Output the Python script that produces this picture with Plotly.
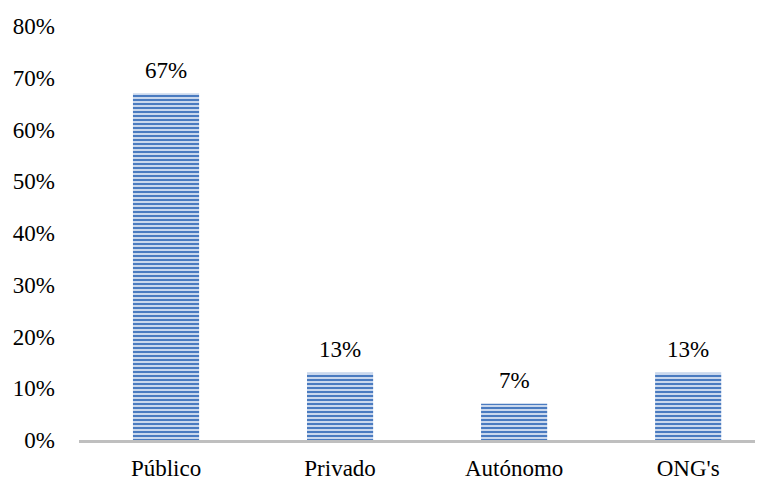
import plotly.graph_objects as go

categories = ["Público", "Privado", "Autónomo", "ONG's"]
values = [0.67, 0.13, 0.07, 0.13]
labels = ["67%", "13%", "7%", "13%"]
ytick_vals = [0, 0.1, 0.2, 0.3, 0.4, 0.5, 0.6, 0.7, 0.8]
ytick_text = ["0%", "10%", "20%", "30%", "40%", "50%", "60%", "70%", "80%"]

font = dict(family="Liberation Serif, Times New Roman, serif", size=23, color="#000000")
xpos = list(range(len(categories)))

fig = go.Figure(go.Bar(
    x=xpos,
    y=values,
    marker=dict(
        color="#9DB8DE",
        line=dict(width=0),
        pattern=dict(shape="-", fgcolor="#4A7BC0", bgcolor="#D8E3F2",
                     fgopacity=1, size=4, solidity=0.55, fillmode="replace"),
    ),
))

for xi, v, lab in zip(xpos, values, labels):
    fig.add_annotation(x=xi, y=v, text=lab, showarrow=False,
                       yanchor="middle", yshift=23, font=font)

# page body has an 8px margin, so the figure is sized to fit inside the window
fig.update_layout(
    width=755, height=469,
    margin=dict(l=71, r=0, t=18, b=37, autoexpand=False),
    paper_bgcolor="white", plot_bgcolor="white",
    bargap=0.62,
    showlegend=False,
    font=font,
)
fig.update_xaxes(
    tickvals=xpos, ticktext=categories,
    range=[-0.5, 3.43],
    showgrid=False, zeroline=False, automargin=False,
    showline=True, linecolor="#BFBFBF", linewidth=3,
    ticks="", ticklabelstandoff=5,
    tickfont=font,
)
fig.update_yaxes(
    range=[0, 0.8], tickvals=ytick_vals, ticktext=ytick_text,
    showgrid=False, zeroline=False, showline=False, automargin=False,
    ticks="", ticklabelstandoff=23,
    tickfont=font,
)

fig.write_html("out.html")
